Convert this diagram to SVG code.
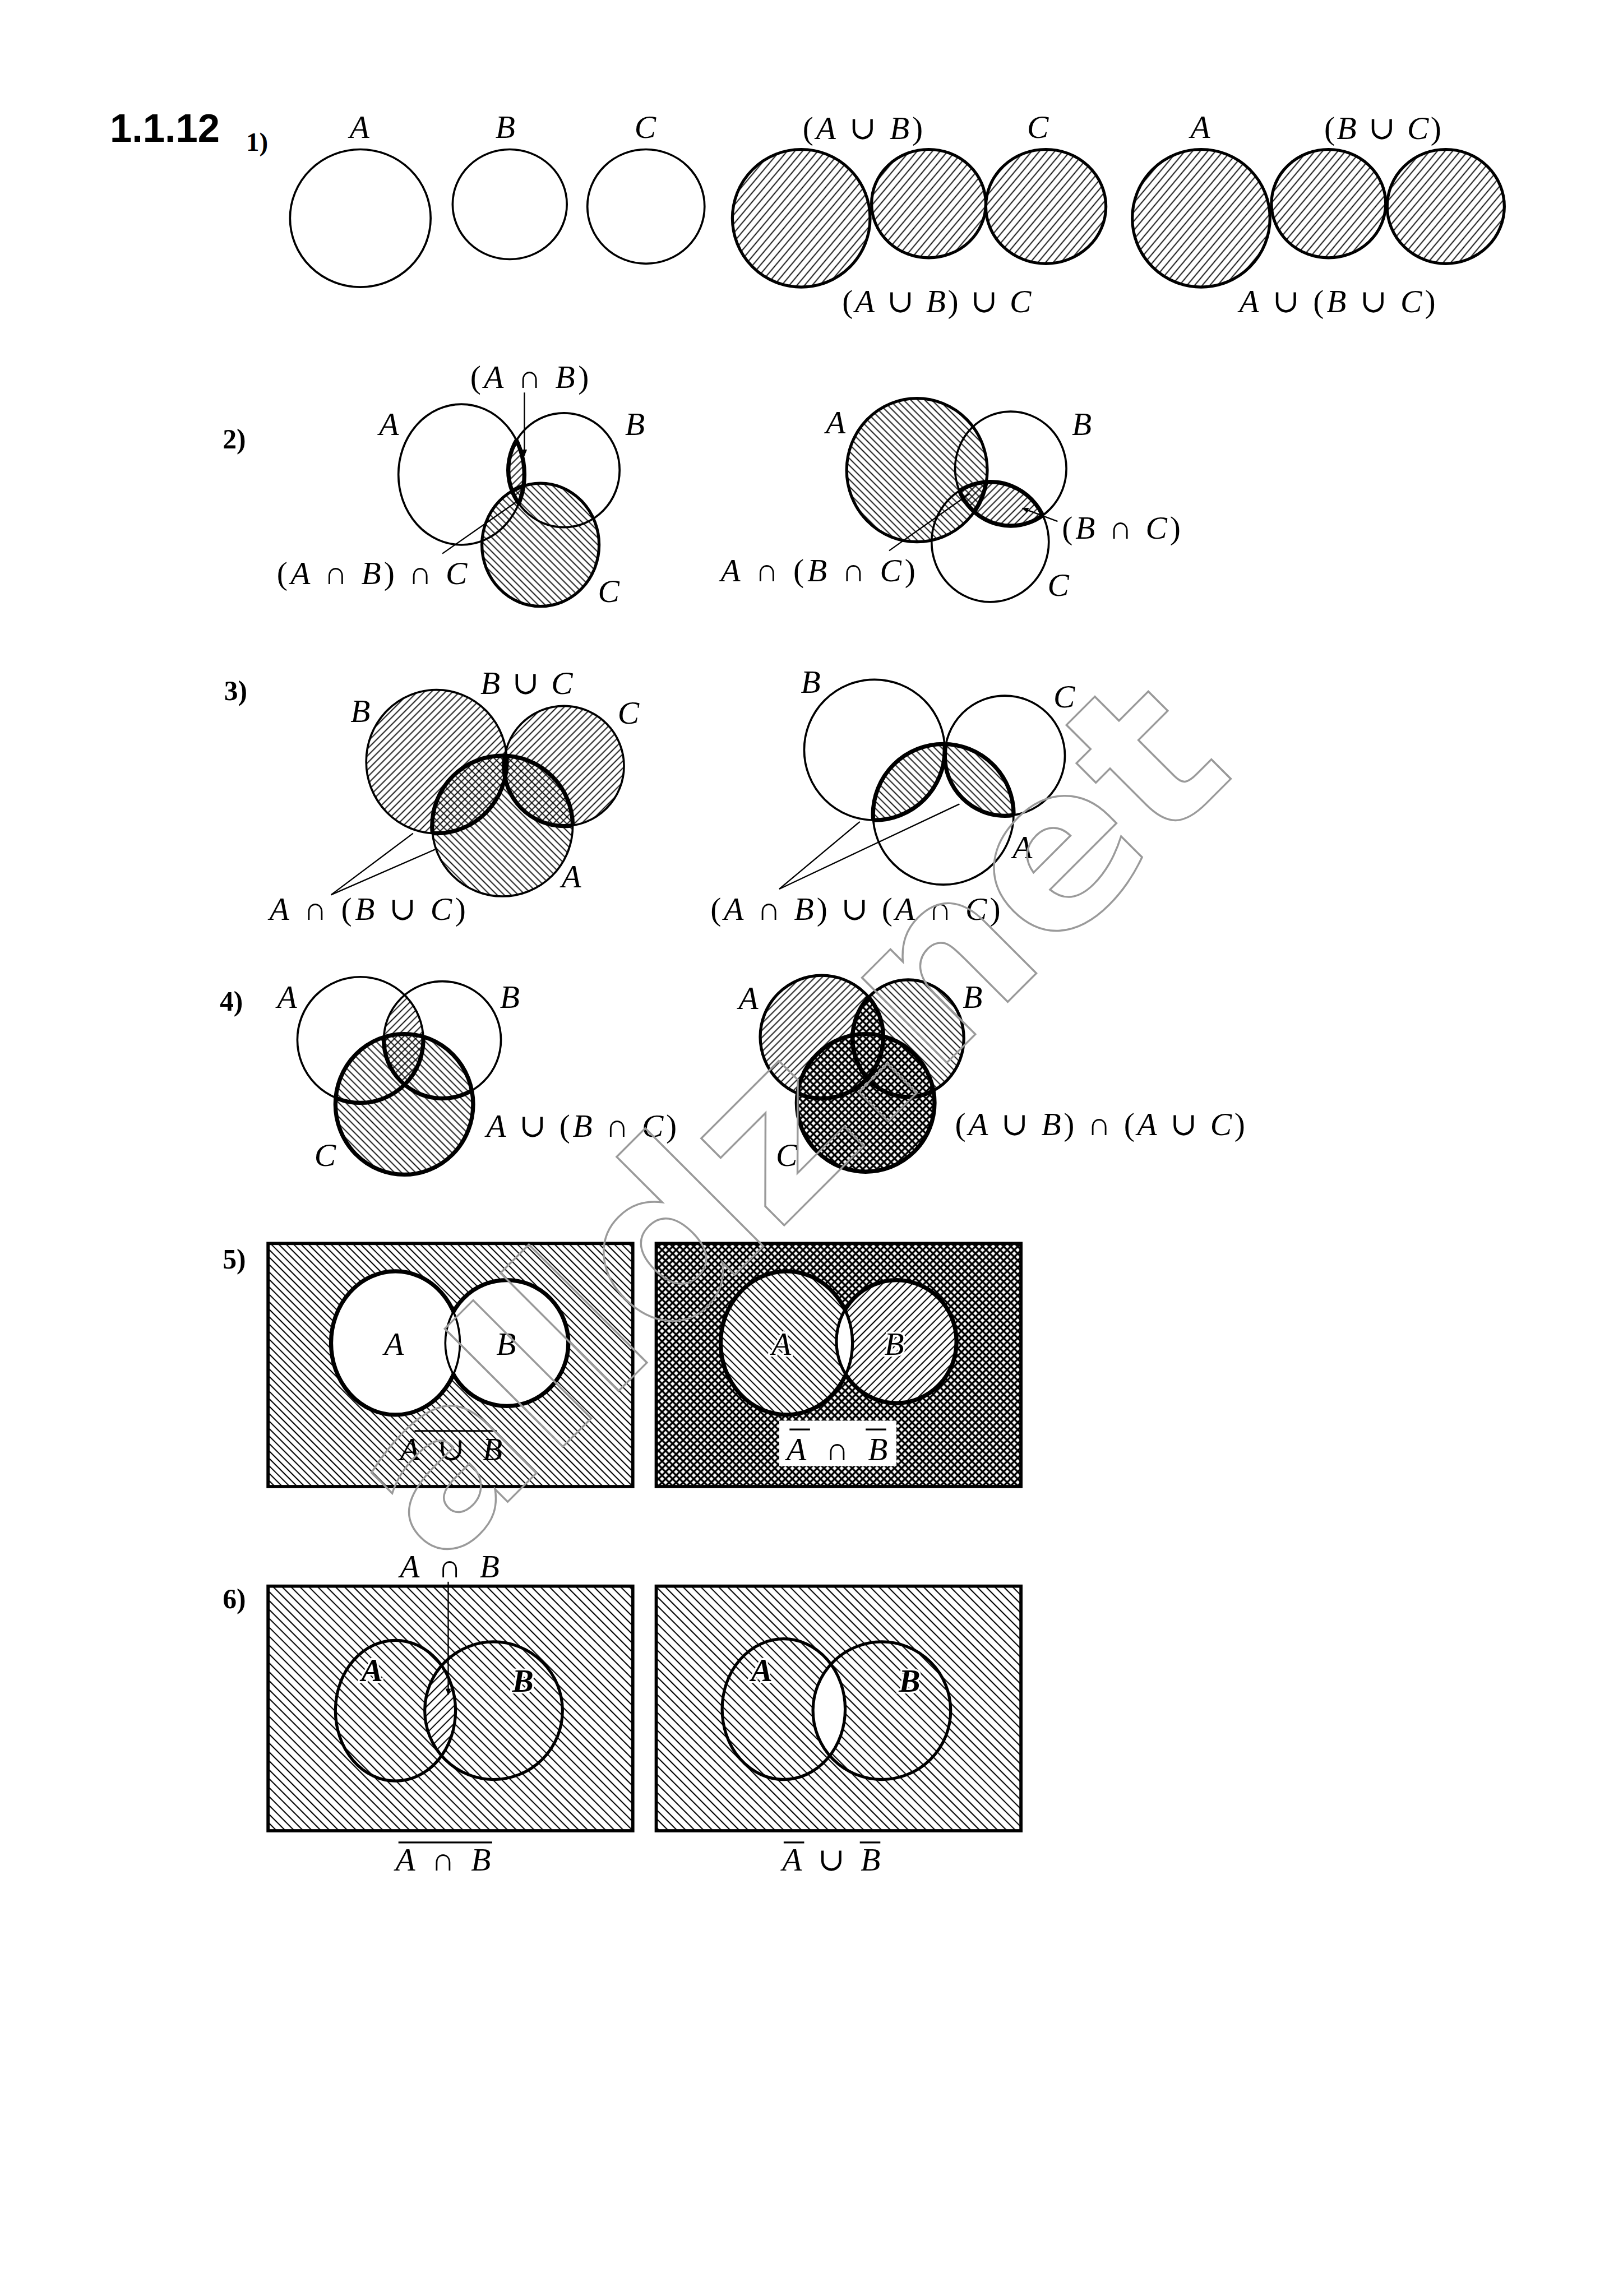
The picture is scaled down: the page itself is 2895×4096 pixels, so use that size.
<svg xmlns="http://www.w3.org/2000/svg" width="2895" height="4096" viewBox="0 0 2895 4096">
<defs>
<style>
.o{fill:none;stroke:#000;stroke-width:1.4}
.om{fill:none;stroke:#000;stroke-width:2}
.ob{fill:none;stroke:#000;stroke-width:2.8}
.t{font-family:"Liberation Serif","DejaVu Serif",serif;font-size:22px;fill:#000}
.i{font-style:italic}
.n{font-family:"Liberation Serif","DejaVu Serif",serif;font-size:19px;font-weight:bold;fill:#000}
.h{font-family:"Liberation Sans",Arial,sans-serif;font-size:27px;font-weight:bold;fill:#000}
.ptr{stroke:#000;stroke-width:0.9;fill:none}
.bar{stroke:#000;stroke-width:1.2}
.halo{paint-order:stroke;stroke:#fff;stroke-width:2.5}
.wm{font-family:"DejaVu Sans",sans-serif;font-weight:bold;font-size:150px;fill:none;stroke:#9a9a9a;stroke-width:1.3}
</style>
<pattern id="hf1" patternUnits="userSpaceOnUse" width="4" height="10" patternTransform="rotate(40)"><line x1="2" y1="-1" x2="2" y2="11" stroke="#000" stroke-width="0.7"/></pattern>
<pattern id="hf" patternUnits="userSpaceOnUse" width="3.4" height="10" patternTransform="rotate(45)"><line x1="1.7" y1="-1" x2="1.7" y2="11" stroke="#000" stroke-width="0.7"/></pattern>
<pattern id="hb" patternUnits="userSpaceOnUse" width="3.4" height="10" patternTransform="rotate(-45)"><line x1="1.7" y1="-1" x2="1.7" y2="11" stroke="#000" stroke-width="0.7"/></pattern>
<pattern id="hb5" patternUnits="userSpaceOnUse" width="3.6" height="10" patternTransform="rotate(-45)"><line x1="1.8" y1="-1" x2="1.8" y2="11" stroke="#000" stroke-width="0.8"/></pattern>
<pattern id="hf5" patternUnits="userSpaceOnUse" width="3.6" height="10" patternTransform="rotate(45)"><line x1="1.8" y1="-1" x2="1.8" y2="11" stroke="#000" stroke-width="0.8"/></pattern>
<pattern id="hb6" patternUnits="userSpaceOnUse" width="4.3" height="10" patternTransform="rotate(-45)"><line x1="2.15" y1="-1" x2="2.15" y2="11" stroke="#000" stroke-width="0.8"/></pattern>
<pattern id="hf6" patternUnits="userSpaceOnUse" width="4.3" height="10" patternTransform="rotate(45)"><line x1="2.15" y1="-1" x2="2.15" y2="11" stroke="#000" stroke-width="0.8"/></pattern>
<pattern id="dc" patternUnits="userSpaceOnUse" width="3.4" height="3.4" patternTransform="rotate(45)"><rect width="3.4" height="3.4" fill="#fff"/><line x1="1.7" y1="-1" x2="1.7" y2="4.4" stroke="#000" stroke-width="1.3"/><line x1="-1" y1="1.7" x2="4.4" y2="1.7" stroke="#000" stroke-width="1.3"/></pattern>
<marker id="ar" viewBox="0 0 10 10" refX="9" refY="5" markerWidth="5" markerHeight="5" orient="auto"><path d="M0,1 L10,5 L0,9 z" fill="#000"/></marker>

<clipPath id="c2lA"><ellipse cx="315" cy="324" rx="43" ry="48"/></clipPath>
<clipPath id="c2lB"><ellipse cx="385" cy="321" rx="38" ry="39"/></clipPath>
<clipPath id="c2rA"><ellipse cx="626" cy="321" rx="48" ry="49"/></clipPath>
<clipPath id="c2rB"><ellipse cx="690" cy="320" rx="38" ry="39"/></clipPath>
<clipPath id="c2rC"><ellipse cx="676" cy="370" rx="40" ry="41"/></clipPath>
<clipPath id="c3lA"><ellipse cx="343" cy="564" rx="48" ry="48"/></clipPath>
<clipPath id="c3lBC"><ellipse cx="298" cy="520" rx="48" ry="49"/><ellipse cx="385" cy="523" rx="41" ry="41"/></clipPath>
<clipPath id="c3rA"><ellipse cx="644" cy="556" rx="48" ry="48"/></clipPath>
<clipPath id="c3rB"><ellipse cx="597" cy="512" rx="48" ry="48"/></clipPath>
<clipPath id="c3rC"><ellipse cx="686" cy="516" rx="41" ry="41"/></clipPath>
<clipPath id="c3rBC"><ellipse cx="597" cy="512" rx="48" ry="48"/><ellipse cx="686" cy="516" rx="41" ry="41"/></clipPath>
<clipPath id="c4lB"><ellipse cx="302" cy="710" rx="40" ry="40"/></clipPath>
<clipPath id="c4lC"><ellipse cx="276" cy="754" rx="47" ry="48"/></clipPath>
<clipPath id="c4rA"><ellipse cx="561" cy="708" rx="42" ry="42"/></clipPath>
<clipPath id="c4rB"><ellipse cx="620" cy="709" rx="38" ry="40"/></clipPath>
<clipPath id="c4rC"><ellipse cx="591" cy="753" rx="47" ry="47"/></clipPath>
<clipPath id="c5lA"><ellipse cx="270" cy="917" rx="44" ry="49"/></clipPath>
<clipPath id="c5lB"><ellipse cx="346" cy="917" rx="42" ry="43"/></clipPath>
<clipPath id="c5rA"><ellipse cx="537" cy="917" rx="45" ry="49"/></clipPath>
<clipPath id="c5rB"><ellipse cx="612" cy="916" rx="41" ry="42"/></clipPath>
<clipPath id="c6lB"><ellipse cx="337" cy="1168" rx="47" ry="47"/></clipPath>
<clipPath id="c6rB"><ellipse cx="602" cy="1168" rx="47" ry="47"/></clipPath>
<mask id="m5lnA" maskUnits="userSpaceOnUse" x="150" y="820" width="320" height="220"><rect x="150" y="820" width="320" height="220" fill="#fff"/><ellipse cx="270" cy="917" rx="44" ry="49" fill="#000"/></mask>
<mask id="m5lnB" maskUnits="userSpaceOnUse" x="150" y="820" width="320" height="220"><rect x="150" y="820" width="320" height="220" fill="#fff"/><ellipse cx="346" cy="917" rx="42" ry="43" fill="#000"/></mask>
<mask id="m5rnA" maskUnits="userSpaceOnUse" x="420" y="820" width="320" height="220"><rect x="420" y="820" width="320" height="220" fill="#fff"/><ellipse cx="537" cy="917" rx="45" ry="49" fill="#000"/></mask>
<mask id="m5rnB" maskUnits="userSpaceOnUse" x="420" y="820" width="320" height="220"><rect x="420" y="820" width="320" height="220" fill="#fff"/><ellipse cx="612" cy="916" rx="41" ry="42" fill="#000"/></mask>
</defs>
<rect width="2895" height="4096" fill="#fff"/>
<g transform="scale(2.6128)">

<text class="h" x="75" y="97">1.1.12</text>
<text class="n" x="168" y="103" style="font-size:18px">1)</text>
<text class="n" x="152" y="306">2)</text>
<text class="n" x="153" y="478">3)</text>
<text class="n" x="150" y="690">4)</text>
<text class="n" x="152" y="866">5)</text>
<text class="n" x="152" y="1098">6)</text>

<!-- Row 1 -->
<g id="r1-A"><ellipse class="o" cx="246" cy="149" rx="48" ry="47"/><text class="t i" x="245.5" y="94" text-anchor="middle">A</text></g>
<g id="r1-B"><ellipse class="o" cx="348" cy="139.5" rx="39" ry="37.5"/><text class="t i" x="345" y="94" text-anchor="middle">B</text></g>
<g id="r1-C"><ellipse class="o" cx="441" cy="141" rx="40" ry="39"/><text class="t i" x="440.5" y="94" text-anchor="middle">C</text></g>
<g id="r1-AuBuC">
<ellipse cx="547" cy="149" rx="47" ry="47" fill="url(#hf1)"/>
<ellipse cx="634" cy="139" rx="39" ry="37" fill="url(#hf1)"/>
<ellipse cx="714" cy="141" rx="41" ry="39" fill="url(#hf1)"/>
<ellipse class="om" cx="547" cy="149" rx="47" ry="47"/>
<ellipse class="om" cx="634" cy="139" rx="39" ry="37"/>
<ellipse class="om" cx="714" cy="141" rx="41" ry="39"/>
<text class="t" x="548" y="95" textLength="82" lengthAdjust="spacing">(<tspan class="i">A</tspan> ∪ <tspan class="i">B</tspan>)</text>
<text class="t i" x="708.5" y="94" text-anchor="middle">C</text>
<text class="t" x="575" y="213" textLength="129" lengthAdjust="spacing">(<tspan class="i">A</tspan> ∪ <tspan class="i">B</tspan>) ∪ <tspan class="i">C</tspan></text>
</g>
<g id="r1-AuBC">
<ellipse cx="820" cy="149" rx="47" ry="47" fill="url(#hf1)"/>
<ellipse cx="907" cy="139" rx="39" ry="37" fill="url(#hf1)"/>
<ellipse cx="987" cy="141" rx="40" ry="39" fill="url(#hf1)"/>
<ellipse class="om" cx="820" cy="149" rx="47" ry="47"/>
<ellipse class="om" cx="907" cy="139" rx="39" ry="37"/>
<ellipse class="om" cx="987" cy="141" rx="40" ry="39"/>
<text class="t i" x="819.5" y="94" text-anchor="middle">A</text>
<text class="t" x="904" y="95" textLength="80" lengthAdjust="spacing">(<tspan class="i">B</tspan> ∪ <tspan class="i">C</tspan>)</text>
<text class="t" x="846" y="213" textLength="134" lengthAdjust="spacing"><tspan class="i">A</tspan> ∪ (<tspan class="i">B</tspan> ∪ <tspan class="i">C</tspan>)</text>
</g>

<!-- Row 2 left -->
<g id="r2-left">
<ellipse cx="369" cy="372" rx="40" ry="42" fill="url(#hb)"/>
<ellipse cx="315" cy="324" rx="43" ry="48" fill="url(#hf)" clip-path="url(#c2lB)"/>
<ellipse class="o" cx="315" cy="324" rx="43" ry="48"/>
<ellipse class="o" cx="385" cy="321" rx="38" ry="39"/>
<ellipse class="om" cx="369" cy="372" rx="40" ry="42"/>
<ellipse class="ob" cx="315" cy="324" rx="43" ry="48" clip-path="url(#c2lB)"/>
<ellipse class="ob" cx="385" cy="321" rx="38" ry="39" clip-path="url(#c2lA)"/>
<g clip-path="url(#c2lA)"><ellipse class="ob" cx="369" cy="372" rx="40" ry="42" clip-path="url(#c2lB)"/></g>
<text class="t" x="321" y="265" textLength="81" lengthAdjust="spacing">(<tspan class="i">A</tspan> ∩ <tspan class="i">B</tspan>)</text>
<text class="t i" x="265.5" y="297" text-anchor="middle">A</text>
<text class="t i" x="433.5" y="297" text-anchor="middle">B</text>
<text class="t" x="189" y="399" textLength="130" lengthAdjust="spacing">(<tspan class="i">A</tspan> ∩ <tspan class="i">B</tspan>) ∩ <tspan class="i">C</tspan></text>
<text class="t i" x="415.5" y="411" text-anchor="middle">C</text>
</g>

<!-- Row 2 right -->
<g id="r2-right">
<ellipse cx="626" cy="321" rx="48" ry="49" fill="url(#hb)"/>
<ellipse cx="690" cy="320" rx="38" ry="39" fill="url(#hf)" clip-path="url(#c2rC)"/>
<ellipse class="om" cx="626" cy="321" rx="48" ry="49"/>
<ellipse class="o" cx="690" cy="320" rx="38" ry="39"/>
<ellipse class="o" cx="676" cy="370" rx="40" ry="41"/>
<ellipse class="ob" cx="690" cy="320" rx="38" ry="39" clip-path="url(#c2rC)"/>
<ellipse class="ob" cx="676" cy="370" rx="40" ry="41" clip-path="url(#c2rB)"/>
<g clip-path="url(#c2rB)"><ellipse class="ob" cx="626" cy="321" rx="48" ry="49" clip-path="url(#c2rC)"/></g>
<text class="t i" x="570.5" y="296" text-anchor="middle">A</text>
<text class="t i" x="738.5" y="297" text-anchor="middle">B</text>
<text class="t" x="725" y="368" textLength="81" lengthAdjust="spacing">(<tspan class="i">B</tspan> ∩ <tspan class="i">C</tspan>)</text>
<text class="t" x="492" y="397" textLength="133" lengthAdjust="spacing"><tspan class="i">A</tspan> ∩ (<tspan class="i">B</tspan> ∩ <tspan class="i">C</tspan>)</text>
<text class="t i" x="722.5" y="407" text-anchor="middle">C</text>
</g>

<!-- Row 3 left -->
<g id="r3-left">
<ellipse cx="298" cy="520" rx="48" ry="49" fill="url(#hf)"/>
<ellipse cx="385" cy="523" rx="41" ry="41" fill="url(#hf)"/>
<ellipse cx="343" cy="564" rx="48" ry="48" fill="url(#hb)"/>
<ellipse class="o" cx="298" cy="520" rx="48" ry="49"/>
<ellipse class="o" cx="385" cy="523" rx="41" ry="41"/>
<ellipse class="o" cx="343" cy="564" rx="48" ry="48"/>
<ellipse class="ob" cx="343" cy="564" rx="48" ry="48" clip-path="url(#c3lBC)"/>
<g clip-path="url(#c3lA)"><ellipse class="ob" cx="298" cy="520" rx="48" ry="49"/><ellipse class="ob" cx="385" cy="523" rx="41" ry="41"/></g>
<text class="t" x="328" y="474" textLength="63" lengthAdjust="spacing"><tspan class="i">B</tspan> ∪ <tspan class="i">C</tspan></text>
<text class="t i" x="246" y="493" text-anchor="middle">B</text>
<text class="t i" x="429" y="494" text-anchor="middle">C</text>
<text class="t i" x="390" y="606" text-anchor="middle">A</text>
<text class="t" x="184" y="628" textLength="134" lengthAdjust="spacing"><tspan class="i">A</tspan> ∩ (<tspan class="i">B</tspan> ∪ <tspan class="i">C</tspan>)</text>
</g>

<!-- Row 3 right -->
<g id="r3-right">
<ellipse cx="644" cy="556" rx="48" ry="48" fill="url(#hb)" clip-path="url(#c3rBC)"/>
<ellipse class="o" cx="597" cy="512" rx="48" ry="48"/>
<ellipse class="o" cx="686" cy="516" rx="41" ry="41"/>
<ellipse class="o" cx="644" cy="556" rx="48" ry="48"/>
<ellipse class="ob" cx="644" cy="556" rx="48" ry="48" clip-path="url(#c3rBC)"/>
<g clip-path="url(#c3rA)"><ellipse class="ob" cx="597" cy="512" rx="48" ry="48"/><ellipse class="ob" cx="686" cy="516" rx="41" ry="41"/></g>
<text class="t i" x="553.5" y="473" text-anchor="middle">B</text>
<text class="t i" x="726.5" y="483" text-anchor="middle">C</text>
<text class="t i" x="698" y="586" text-anchor="middle">A</text>
<text class="t" x="485" y="628" textLength="198" lengthAdjust="spacing">(<tspan class="i">A</tspan> ∩ <tspan class="i">B</tspan>) ∪ (<tspan class="i">A</tspan> ∩ <tspan class="i">C</tspan>)</text>
</g>

<!-- Row 4 left -->
<g id="r4-left">
<ellipse cx="276" cy="754" rx="47" ry="48" fill="url(#hb)"/>
<ellipse cx="246" cy="710" rx="43" ry="43" fill="url(#hf)" clip-path="url(#c4lB)"/>
<ellipse class="o" cx="246" cy="710" rx="43" ry="43"/>
<ellipse class="o" cx="302" cy="710" rx="40" ry="40"/>
<ellipse class="ob" cx="276" cy="754" rx="47" ry="48"/>
<g clip-path="url(#c4lC)"><ellipse class="ob" cx="246" cy="710" rx="43" ry="43"/><ellipse class="ob" cx="302" cy="710" rx="40" ry="40"/></g>
<text class="t i" x="196" y="688" text-anchor="middle">A</text>
<text class="t i" x="348" y="688" text-anchor="middle">B</text>
<text class="t i" x="222" y="796" text-anchor="middle">C</text>
<text class="t" x="332" y="776" textLength="130" lengthAdjust="spacing"><tspan class="i">A</tspan> ∪ (<tspan class="i">B</tspan> ∩ <tspan class="i">C</tspan>)</text>
</g>

<!-- Row 4 right -->
<g id="r4-right">
<ellipse cx="561" cy="708" rx="42" ry="42" fill="url(#hf)"/>
<ellipse cx="620" cy="709" rx="38" ry="40" fill="url(#hb)"/>
<ellipse cx="561" cy="708" rx="42" ry="42" fill="url(#dc)" clip-path="url(#c4rB)"/>
<ellipse cx="591" cy="753" rx="47" ry="47" fill="url(#dc)"/>
<ellipse class="om" cx="561" cy="708" rx="42" ry="42"/>
<ellipse class="om" cx="620" cy="709" rx="38" ry="40"/>
<ellipse class="ob" cx="591" cy="753" rx="47" ry="47"/>
<g clip-path="url(#c4rC)"><ellipse class="ob" cx="561" cy="708" rx="42" ry="42"/><ellipse class="ob" cx="620" cy="709" rx="38" ry="40"/></g>
<ellipse class="ob" cx="561" cy="708" rx="42" ry="42" clip-path="url(#c4rB)"/>
<ellipse class="ob" cx="620" cy="709" rx="38" ry="40" clip-path="url(#c4rA)"/>
<text class="t i" x="511" y="689" text-anchor="middle">A</text>
<text class="t i" x="664" y="688" text-anchor="middle">B</text>
<text class="t i" x="537" y="796" text-anchor="middle">C</text>
<text class="t" x="652" y="775" textLength="198" lengthAdjust="spacing">(<tspan class="i">A</tspan> ∪ <tspan class="i">B</tspan>) ∩ (<tspan class="i">A</tspan> ∪ <tspan class="i">C</tspan>)</text>
</g>

<!-- Row 5 left -->
<g id="r5-left">
<rect x="183" y="849" width="249" height="166" fill="url(#hb5)" stroke="#000" stroke-width="2.2"/>
<ellipse cx="270" cy="917" rx="44" ry="49" fill="#fff"/>
<ellipse cx="346" cy="917" rx="42" ry="43" fill="#fff"/>
<ellipse class="ob" cx="270" cy="917" rx="44" ry="49" mask="url(#m5lnB)"/>
<ellipse class="ob" cx="346" cy="917" rx="42" ry="43" mask="url(#m5lnA)"/>
<ellipse class="o" cx="270" cy="917" rx="44" ry="49" clip-path="url(#c5lB)"/>
<ellipse class="o" cx="346" cy="917" rx="42" ry="43" clip-path="url(#c5lA)"/>
<text class="t i" x="269" y="925" text-anchor="middle">A</text>
<text class="t i" x="345.5" y="925" text-anchor="middle">B</text>
<line class="bar" x1="283" y1="977" x2="339" y2="977"/>
<text class="t" x="273" y="997" textLength="70" lengthAdjust="spacing"><tspan class="i">A</tspan> ∪ <tspan class="i">B</tspan></text>
</g>

<!-- Row 5 right -->
<g id="r5-right">
<rect x="448" y="849" width="249" height="166" fill="url(#dc)" stroke="#000" stroke-width="2.2"/>
<ellipse cx="537" cy="917" rx="45" ry="49" fill="#fff"/>
<ellipse cx="612" cy="916" rx="41" ry="42" fill="#fff"/>
<ellipse cx="537" cy="917" rx="45" ry="49" fill="url(#hb5)" mask="url(#m5rnB)"/>
<ellipse cx="612" cy="916" rx="41" ry="42" fill="url(#hf5)" mask="url(#m5rnA)"/>
<ellipse class="ob" cx="537" cy="917" rx="45" ry="49" mask="url(#m5rnB)"/>
<ellipse class="ob" cx="612" cy="916" rx="41" ry="42" mask="url(#m5rnA)"/>
<ellipse class="om" cx="537" cy="917" rx="45" ry="49" clip-path="url(#c5rB)"/>
<ellipse class="om" cx="612" cy="916" rx="41" ry="42" clip-path="url(#c5rA)"/>
<text class="t i halo" x="533.5" y="925" text-anchor="middle">A</text>
<text class="t i halo" x="610.5" y="925" text-anchor="middle">B</text>
<rect x="532" y="970" width="80" height="31" fill="#fff"/>
<line class="bar" x1="539" y1="976" x2="553" y2="976"/>
<line class="bar" x1="591" y1="976" x2="605" y2="976"/>
<text class="t" x="537" y="997" textLength="69" lengthAdjust="spacing"><tspan class="i">A</tspan> ∩ <tspan class="i">B</tspan></text>
</g>

<!-- Row 6 left -->
<g id="r6-left">
<rect x="183" y="1083" width="249" height="167" fill="url(#hb6)" stroke="#000" stroke-width="2.2"/>
<ellipse cx="270" cy="1168" rx="41" ry="48" fill="#fff" clip-path="url(#c6lB)"/>
<ellipse cx="270" cy="1168" rx="41" ry="48" fill="url(#hf6)" clip-path="url(#c6lB)"/>
<ellipse class="om" cx="270" cy="1168" rx="41" ry="48"/>
<ellipse class="om" cx="337" cy="1168" rx="47" ry="47"/>
<text class="t i halo" x="254" y="1148" text-anchor="middle" font-weight="bold">A</text>
<text class="t i halo" x="357" y="1155" text-anchor="middle" font-weight="bold">B</text>
<text class="t" x="273" y="1077" textLength="68" lengthAdjust="spacing"><tspan class="i">A</tspan> ∩ <tspan class="i">B</tspan></text>
<line class="bar" x1="272" y1="1258" x2="336" y2="1258"/>
<text class="t" x="270" y="1277" textLength="65" lengthAdjust="spacing"><tspan class="i">A</tspan> ∩ <tspan class="i">B</tspan></text>
</g>

<!-- Row 6 right -->
<g id="r6-right">
<rect x="448" y="1083" width="249" height="167" fill="url(#hb6)" stroke="#000" stroke-width="2.2"/>
<ellipse cx="535" cy="1167" rx="42" ry="48" fill="#fff" clip-path="url(#c6rB)"/>
<ellipse class="om" cx="535" cy="1167" rx="42" ry="48"/>
<ellipse class="om" cx="602" cy="1168" rx="47" ry="47"/>
<text class="t i halo" x="520" y="1148" text-anchor="middle" font-weight="bold">A</text>
<text class="t i halo" x="621" y="1155" text-anchor="middle" font-weight="bold">B</text>
<line class="bar" x1="535" y1="1258" x2="549" y2="1258"/>
<line class="bar" x1="587" y1="1258" x2="601" y2="1258"/>
<text class="t" x="534" y="1277" textLength="67" lengthAdjust="spacing"><tspan class="i">A</tspan> ∪ <tspan class="i">B</tspan></text>
</g>

<!-- connectors -->
<g id="connectors">
<line class="ptr" x1="358" y1="268" x2="358" y2="311" marker-end="url(#ar)"/>
<line class="ptr" x1="302" y1="378" x2="352" y2="343"/>
<line class="ptr" x1="722" y1="356" x2="698" y2="347" marker-end="url(#ar)"/>
<line class="ptr" x1="607" y1="376" x2="662" y2="337"/>
<line class="ptr" x1="226" y1="611" x2="282" y2="569"/>
<line class="ptr" x1="226" y1="611" x2="297" y2="580"/>
<line class="ptr" x1="532" y1="607" x2="587" y2="561"/>
<line class="ptr" x1="532" y1="607" x2="655" y2="549"/>
<line class="ptr" x1="306" y1="1080" x2="306" y2="1157" marker-end="url(#ar)"/>
</g>

<!-- watermark -->
<text class="wm" transform="translate(300,1072) rotate(-45)" x="0" y="0" textLength="770" lengthAdjust="spacingAndGlyphs">alldz.net</text>
</g>
</svg>
